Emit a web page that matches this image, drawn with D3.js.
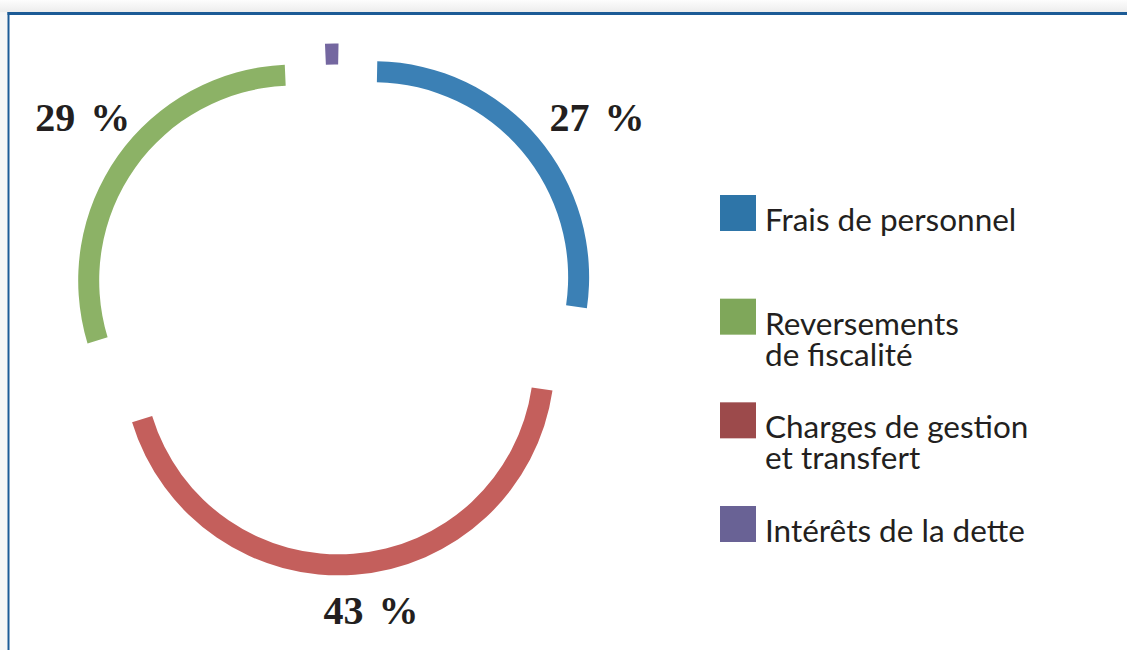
<!DOCTYPE html>
<html lang="fr">
<head>
<meta charset="UTF-8">
<title>Répartition des dépenses</title>
<script src="https://d3js.org/d3.v7.min.js"></script>
<style>
    body { margin: 0; background: #ffffff; }
    svg { display: block; }
    .legend text { font-family: Lato, "Open Sans", sans-serif; fill: #231f20; }
    .pct { font-family: "Liberation Serif", "Times New Roman", serif; font-weight: bold; fill: #231f20; }
</style>
</head>
<body>
<script>
// Data, in the clockwise order of the ring (starting at 12 o'clock)
const categories = ['Frais de personnel', 'Charges de gestion et transfert', 'Reversements de fiscalité', 'Intérêts de la dette'];
const values = [27, 43, 29, 1];
const pctLabels = ['27 %', '43 %', '29 %', ''];
const ringColors = ['#3b80b5', '#c45f5c', '#8cb266', '#7467a0'];

// Legend (order as shown on the right)
const legendLines = [
    ['Frais de personnel'],
    ['Reversements', 'de fiscalité'],
    ['Charges de gestion', 'et transfert'],
    ['Intérêts de la dette']
];
const legendColors = ['#2e75a8', '#7fa75a', '#9c4a4b', '#696295'];

const width = 1127, height = 650;
const cx = 335, cy = 309.5;
const outerR = 216, innerR = 195;
const explode = 50;

const svg = d3.select('body').append('svg')
    .attr('width', width)
    .attr('height', height);

// frame with light shadow above
const defs = svg.append('defs');
const grad = defs.append('linearGradient')
    .attr('id', 'topShade').attr('x1', 0).attr('y1', 0).attr('x2', 0).attr('y2', 1);
grad.append('stop').attr('offset', '0%').attr('stop-color', '#fdfdfd');
grad.append('stop').attr('offset', '100%').attr('stop-color', '#ececec');
svg.append('rect').attr('x', 0).attr('y', 0).attr('width', width).attr('height', 12.5)
    .attr('fill', 'url(#topShade)');
svg.append('rect').attr('x', 0).attr('y', 12.5).attr('width', 7.5).attr('height', height - 12.5)
    .attr('fill', '#f6f6f6');
svg.append('rect').attr('x', 7.5).attr('y', 12).attr('width', width - 7.5).attr('height', 3)
    .attr('fill', '#1c5b96');
svg.append('rect').attr('x', 7.5).attr('y', 12).attr('width', 2).attr('height', height - 12)
    .attr('fill', '#1c5b96');

// ring
const start = 1.1 * Math.PI / 180;
const pie = d3.pie().sort(null).startAngle(start).endAngle(start + 2 * Math.PI);
const arcs = pie(values);

const arc = d3.arc().innerRadius(innerR).outerRadius(outerR);

const ring = svg.append('g').attr('transform', `translate(${cx},${cy})`);

ring.selectAll('path')
    .data(arcs)
    .enter().append('path')
    .attr('d', arc)
    .attr('fill', (d, i) => ringColors[i])
    .attr('transform', d => {
        const mid = (d.startAngle + d.endAngle) / 2;
        return `translate(${explode * Math.sin(mid)},${-explode * Math.cos(mid)})`;
    });

// percentage labels, placed along each slice's direction
const labelPolar = [
    { r: 325, shift: 4.0 },
    { r: 303, shift: -2.5 },
    { r: 317, shift: 2.0 },
    { r: 0, shift: 0 }
];
ring.selectAll('text.pct')
    .data(arcs.filter((d, i) => pctLabels[i] !== ''))
    .enter().append('text')
    .attr('class', 'pct')
    .attr('text-anchor', 'middle')
    .attr('dy', '0.34em')
    .style('font-size', '40px')
    .style('word-spacing', '5px')
    .attr('x', d => {
        const p = labelPolar[d.index];
        const a = (d.startAngle + d.endAngle) / 2 + p.shift * Math.PI / 180;
        return p.r * Math.sin(a);
    })
    .attr('y', d => {
        const p = labelPolar[d.index];
        const a = (d.startAngle + d.endAngle) / 2 + p.shift * Math.PI / 180;
        return -p.r * Math.cos(a);
    })
    .text(d => pctLabels[d.index]);

// legend
const legendY = d3.scalePoint()
    .domain(d3.range(legendLines.length))
    .range([195, 506]);

const legend = svg.append('g').attr('class', 'legend');
const items = legend.selectAll('g')
    .data(legendLines)
    .enter().append('g')
    .attr('transform', (d, i) => `translate(720,${legendY(i)})`);

items.append('rect')
    .attr('width', 36)
    .attr('height', 36)
    .attr('fill', (d, i) => legendColors[i]);

items.append('text')
    .attr('y', 36)
    .style('font-size', '31.5px')
    .selectAll('tspan')
    .data(d => d)
    .enter().append('tspan')
    .attr('x', 45)
    .attr('dy', (d, i) => i === 0 ? 0 : 31)
    .text(d => d);
</script>
</body>
</html>
